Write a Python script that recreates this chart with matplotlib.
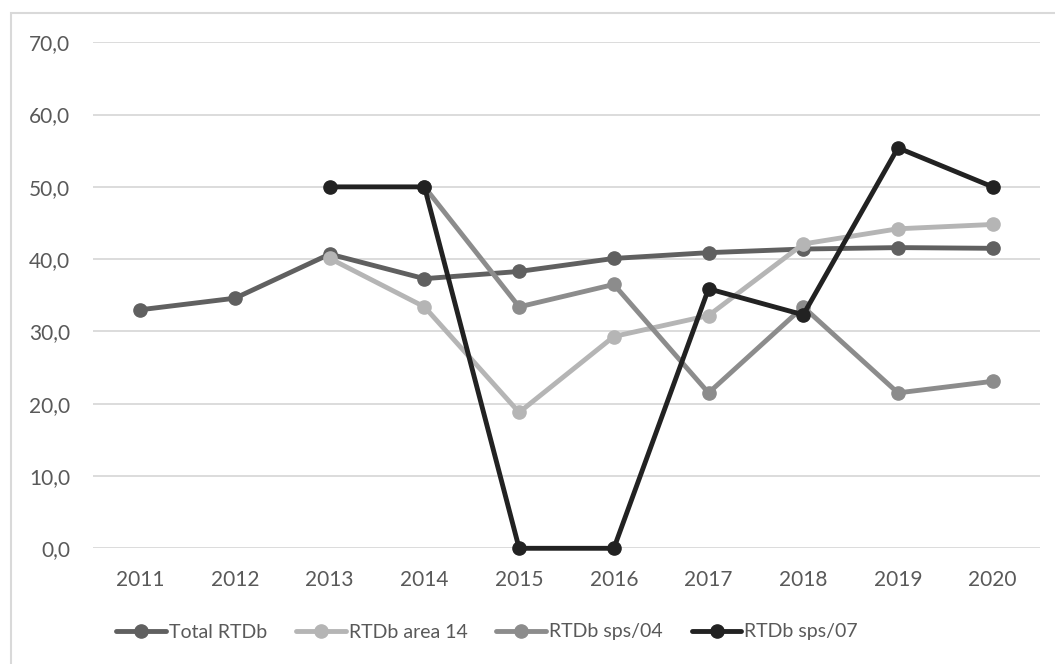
import matplotlib.pyplot as plt
from matplotlib.patches import Rectangle
from matplotlib.ticker import FuncFormatter

years = ["2011", "2012", "2013", "2014", "2015", "2016", "2017", "2018", "2019", "2020"]
nan = float("nan")

total_rtdb = [33.0, 34.6, 40.7, 37.3, 38.3, 40.1, 40.9, 41.4, 41.6, 41.5]
area_14 = [nan, nan, 40.1, 33.4, 18.8, 29.3, 32.2, 42.1, 44.2, 44.8]
sps_04 = [nan, nan, nan, 50.0, 33.4, 36.5, 21.5, 33.4, 21.5, 23.1]
sps_07 = [nan, nan, 50.0, 50.0, 0.0, 0.0, 35.9, 32.3, 55.4, 50.0]

series = [
    ("Total RTDb", total_rtdb, "#606060"),
    ("RTDb area 14", area_14, "#b5b5b5"),
    ("RTDb sps/04", sps_04, "#8c8c8c"),
    ("RTDb sps/07", sps_07, "#222222"),
]

plt.rcParams["font.family"] = ["Lato", "DejaVu Sans"]
text_col = "#595959"

fig = plt.figure(figsize=(10.55, 6.64), dpi=100)
# rahmen okoli grafa
fig.patches.append(Rectangle((11 / 1055, -0.1), 1.2, 1 - 13 / 664 + 0.1,
                             transform=fig.transFigure, fill=False,
                             edgecolor="#d9d9d9", linewidth=1.5))

ax = fig.add_axes([93 / 1055, 1 - 548.3 / 664, (1040 - 93) / 1055, (548.3 - 42.3) / 664])
x = list(range(len(years)))
for name, vals, col in series:
    ax.plot(x, vals, color=col, linewidth=3.5, marker="o", markersize=9.5,
            label=name, clip_on=False, solid_capstyle="round")

ax.set_xlim(-0.5, len(years) - 0.5)
ax.set_ylim(0, 70)
ax.set_yticks(range(0, 71, 10))
ax.yaxis.set_major_formatter(FuncFormatter(lambda v, p: f"{v:.1f}".replace(".", ",")))
ax.set_xticks(x)
ax.set_xticklabels(years)
ax.grid(axis="y", color="#d9d9d9", linewidth=1.3)
ax.set_axisbelow(True)
for s in ax.spines.values():
    s.set_visible(False)
ax.tick_params(length=0, labelsize=15, labelcolor=text_col)
ax.tick_params(axis="y", pad=16.5)
ax.tick_params(axis="x", pad=15.5)

fig.legend(loc="center", bbox_to_anchor=(487 / 1055, 1 - 632 / 664), ncol=4,
           frameon=False, fontsize=14, labelcolor=text_col, handlelength=2.55,
           handletextpad=0.15, columnspacing=1.5)

fig.savefig("out.png", dpi=100)
